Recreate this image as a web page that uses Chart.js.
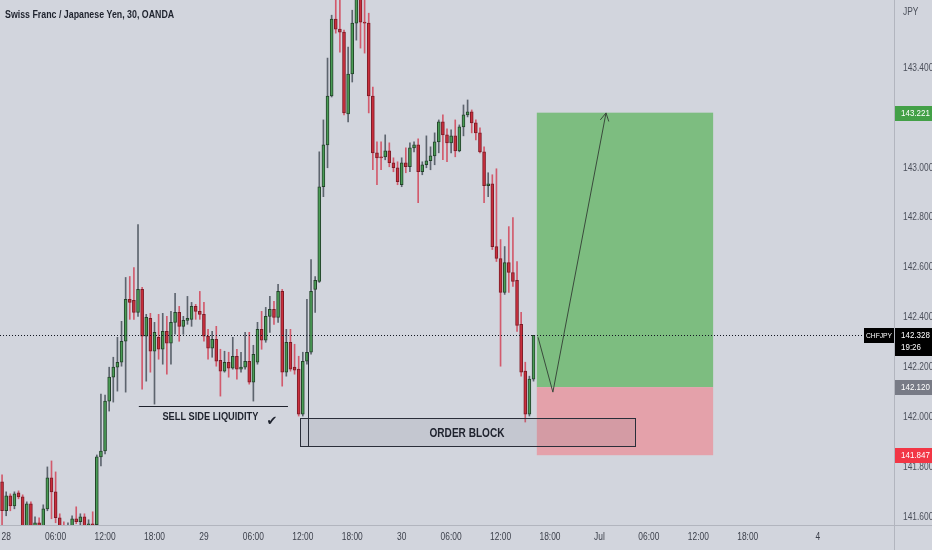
<!DOCTYPE html>
<html>
<head>
<meta charset="utf-8">
<title>CHFJPY 30</title>
<script src="https://cdn.jsdelivr.net/npm/chart.js@4.4.0/dist/chart.umd.min.js"></script>
<style>
    html, body { margin: 0; padding: 0; background: #d2d5dd; }
    #wrap { position: relative; width: 932px; height: 550px; }
</style>
</head>
<body>
<div id="wrap"><canvas id="chart" width="932" height="550"></canvas></div>
<script>
// CHFJPY 30 minute candles (slot 0 = 27 Jun 23:30)
const opens = [
    141.740, 141.624, 141.684, 141.644, 141.696, 141.680, 141.560, 141.652, 141.564, 141.576,
    141.560, 141.632, 141.756, 141.700, 141.596, 141.560, 141.548, 141.556, 141.592, 141.580,
    141.600, 141.564, 141.572, 141.568, 141.840, 141.864, 142.064, 142.160, 142.200, 142.220,
    142.304, 142.472, 142.468, 142.420, 142.512, 142.324, 142.396, 142.264, 142.320, 142.272,
    142.344, 142.296, 142.380, 142.420, 142.364, 142.388, 142.392, 142.444, 142.424, 142.412,
    142.324, 142.276, 142.312, 142.228, 142.184, 142.220, 142.196, 142.244, 142.192, 142.200,
    142.224, 142.140, 142.220, 142.352, 142.308, 142.404, 142.432, 142.400, 142.504, 142.180,
    142.300, 142.200, 142.192, 142.012, 142.224, 142.260, 142.512, 142.544, 142.924, 143.092,
    143.288, 143.596, 143.556, 143.544, 143.216, 143.376, 143.580, 143.684, 143.584, 143.580,
    143.288, 143.060, 143.044, 143.044, 143.068, 143.020, 143.000, 142.932, 143.020, 143.004,
    143.080, 143.092, 142.984, 143.012, 143.028, 143.048, 143.104, 143.184, 143.132, 143.100,
    143.128, 143.068, 143.164, 143.212, 143.224, 143.180, 143.140, 143.064, 142.928, 142.936,
    142.684, 142.636, 142.500, 142.620, 142.580, 142.548, 142.372, 142.184, 142.012, 142.152
];
const highs = [
    141.768, 141.700, 141.692, 141.700, 141.704, 141.688, 141.660, 141.660, 141.600, 141.596,
    141.648, 141.800, 141.824, 141.780, 141.612, 141.580, 141.576, 141.604, 141.640, 141.612,
    141.612, 141.588, 141.620, 141.848, 142.092, 142.088, 142.200, 142.240, 142.320, 142.384,
    142.560, 142.564, 142.600, 142.772, 142.520, 142.412, 142.416, 142.380, 142.412, 142.416,
    142.404, 142.424, 142.496, 142.444, 142.404, 142.484, 142.460, 142.452, 142.504, 142.460,
    142.352, 142.344, 142.364, 142.272, 142.264, 142.260, 142.320, 142.272, 142.260, 142.340,
    142.340, 142.288, 142.380, 142.424, 142.440, 142.484, 142.464, 142.532, 142.512, 142.352,
    142.352, 142.292, 142.244, 142.260, 142.472, 142.632, 142.564, 143.064, 143.192, 143.440,
    143.612, 143.692, 143.692, 143.552, 143.484, 143.632, 143.712, 143.712, 143.684, 143.620,
    143.324, 143.104, 143.104, 143.132, 143.100, 143.040, 143.024, 143.040, 143.080, 143.100,
    143.104, 143.116, 143.024, 143.128, 143.084, 143.140, 143.192, 143.212, 143.156, 143.152,
    143.192, 143.172, 143.252, 143.272, 143.232, 143.192, 143.160, 143.084, 142.980, 142.972,
    142.996, 142.712, 142.684, 142.764, 142.800, 142.624, 142.420, 142.220, 142.164, 142.328
];
const lows = [
    141.552, 141.604, 141.624, 141.632, 141.672, 141.552, 141.552, 141.552, 141.544, 141.544,
    141.552, 141.624, 141.592, 141.576, 141.544, 141.532, 141.528, 141.550, 141.572, 141.568,
    141.552, 141.548, 141.552, 141.552, 141.804, 141.852, 142.024, 142.060, 142.104, 142.204,
    142.100, 142.392, 142.392, 142.404, 142.112, 142.144, 142.180, 142.052, 142.232, 142.212,
    142.172, 142.212, 142.332, 142.304, 142.332, 142.372, 142.364, 142.392, 142.392, 142.304,
    142.232, 142.240, 142.204, 142.084, 142.180, 142.160, 142.192, 142.152, 142.180, 142.192,
    142.132, 142.064, 142.212, 142.272, 142.300, 142.340, 142.372, 142.380, 142.124, 142.164,
    142.184, 142.172, 142.004, 142.004, 142.212, 142.252, 142.420, 142.540, 142.884, 143.000,
    143.284, 143.540, 143.464, 143.212, 143.184, 143.344, 143.512, 143.480, 143.460, 143.220,
    142.992, 142.932, 142.992, 143.032, 143.004, 142.984, 142.932, 142.924, 142.980, 142.984,
    143.064, 142.860, 142.972, 143.000, 142.992, 143.012, 143.060, 143.032, 143.024, 143.060,
    143.044, 143.064, 143.128, 143.204, 143.140, 143.112, 143.060, 142.860, 142.884, 142.672,
    142.624, 142.204, 142.492, 142.500, 142.524, 142.344, 142.164, 141.980, 142.004, 142.144
];
const closes = [
    141.624, 141.684, 141.644, 141.692, 141.680, 141.560, 141.652, 141.564, 141.576, 141.560,
    141.632, 141.756, 141.700, 141.596, 141.560, 141.548, 141.556, 141.592, 141.580, 141.600,
    141.564, 141.572, 141.568, 141.840, 141.864, 142.064, 142.160, 142.200, 142.220, 142.304,
    142.472, 142.460, 142.420, 142.512, 142.324, 142.400, 142.264, 142.340, 142.272, 142.344,
    142.296, 142.380, 142.420, 142.364, 142.388, 142.396, 142.444, 142.424, 142.412, 142.324,
    142.276, 142.312, 142.224, 142.184, 142.220, 142.196, 142.244, 142.192, 142.200, 142.224,
    142.140, 142.252, 142.352, 142.308, 142.404, 142.432, 142.400, 142.504, 142.180, 142.300,
    142.192, 142.188, 142.012, 142.224, 142.260, 142.504, 142.548, 142.924, 143.092, 143.288,
    143.596, 143.556, 143.544, 143.220, 143.376, 143.580, 143.692, 143.584, 143.580, 143.288,
    143.060, 143.040, 143.040, 143.068, 143.020, 143.000, 142.944, 143.020, 143.004, 143.080,
    143.092, 142.984, 143.012, 143.028, 143.048, 143.104, 143.184, 143.132, 143.100, 143.128,
    143.068, 143.164, 143.212, 143.224, 143.180, 143.140, 143.064, 142.928, 142.936, 142.684,
    142.636, 142.500, 142.620, 142.580, 142.544, 142.368, 142.180, 142.012, 142.152, 142.328
];

// time axis (30 min slots, incl. empty space on the right)
const totalSlots = 217;
const tickSlots = [1, 13, 25, 37, 49, 61, 73, 85, 97, 109, 121, 133, 145, 157, 169, 181, 198];
const tickText = ['28', '06:00', '12:00', '18:00', '29', '06:00', '12:00', '18:00', '30', '06:00', '12:00', '18:00', 'Jul', '06:00', '12:00', '18:00', '4'];
const priceTicks = [141.6, 141.8, 142.0, 142.2, 142.4, 142.6, 142.8, 143.0, 143.2, 143.4];

// trade levels
const lastPrice = 142.328;
const takeProfit = 143.221;
const entryPrice = 142.120;
const stopLoss = 141.847;

// drawings (slot, price)
const zoneSlots = [129.8, 172.6];
const obSlots = [72.3, 153.6];
const obPrices = [141.996, 141.884];
const obMarkSlot = 74.3;
const obMarkTop = 142.26;
const sslSlots = [33.2, 69.4];
const sslPrice = 142.044;
const arrowSlots = [130.1, 133.7, 146.6];
const arrowPrices = [142.32, 142.10, 143.22];

const FONT = "'Liberation Sans', Arial, sans-serif";
const SQUEEZE = 0.84;   // the screenshot uses a condensed face
const UP = '#4a9c55', UP_EDGE = '#23432a', UP_WICK = '#5d646e';
const DOWN = '#c92f3d', DOWN_EDGE = '#7d1b26', DOWN_WICK = '#d25a6c';

const slots = Array.from({ length: totalSlots }, (_, i) => String(i));
const isUp = opens.map((o, i) => closes[i] >= o);

// narrow text: draw with a horizontal squeeze
function narrowText(ctx, text, x, y, align, font, color) {
    ctx.save();
    ctx.font = font;
    ctx.fillStyle = color;
    ctx.textAlign = align;
    ctx.textBaseline = 'middle';
    ctx.translate(x, y);
    ctx.scale(SQUEEZE, 1);
    ctx.fillText(text, 0, 0);
    ctx.restore();
}

function priceBox(ctx, yScale, x, w, price, h, fill, lines) {
    const y = Math.round(yScale.getPixelForValue(price));
    ctx.fillStyle = fill;
    ctx.fillRect(x, y - 7, w, h);
    lines.forEach((t, k) => narrowText(ctx, t, x + 6, y + 0.5 + k * 12, 'left', '9.5px ' + FONT, '#ffffff'));
}

const drawings = {
    id: 'drawings',
    beforeDatasetsDraw(chart) {
        const { ctx, scales: { x, y } } = chart;
        const x1 = x.getPixelForValue(zoneSlots[0]);
        const x2 = x.getPixelForValue(zoneSlots[1]);
        // long position: target zone and stop zone
        ctx.save();
        ctx.fillStyle = '#7dbd80';
        ctx.fillRect(x1, y.getPixelForValue(takeProfit), x2 - x1, y.getPixelForValue(entryPrice) - y.getPixelForValue(takeProfit));
        ctx.fillStyle = '#e4a1aa';
        ctx.fillRect(x1, y.getPixelForValue(entryPrice), x2 - x1, y.getPixelForValue(stopLoss) - y.getPixelForValue(entryPrice));
        ctx.restore();
    },
    afterDatasetsDraw(chart) {
        const { ctx, chartArea, scales: { x, y } } = chart;
        ctx.save();

        // order block
        const bx1 = Math.round(x.getPixelForValue(obSlots[0])) + 0.5;
        const bx2 = Math.round(x.getPixelForValue(obSlots[1])) + 0.5;
        const by1 = Math.round(y.getPixelForValue(obPrices[0])) + 0.5;
        const by2 = Math.round(y.getPixelForValue(obPrices[1])) + 0.5;
        ctx.fillStyle = 'rgba(120, 123, 134, 0.15)';
        ctx.fillRect(bx1, by1, bx2 - bx1, by2 - by1);
        ctx.strokeStyle = '#2a2e39';
        ctx.lineWidth = 1;
        ctx.strokeRect(bx1, by1, bx2 - bx1, by2 - by1);
        const mx = Math.round(x.getPixelForValue(obMarkSlot)) + 0.5;
        ctx.beginPath();
        ctx.moveTo(mx, y.getPixelForValue(obMarkTop));
        ctx.lineTo(mx, by2);
        ctx.stroke();
        narrowText(ctx, 'ORDER BLOCK', (bx1 + bx2) / 2 - 1, (by1 + by2) / 2 + 1, 'center', 'bold 12px ' + FONT, '#1e222d');

        // sell side liquidity
        const sy = Math.round(y.getPixelForValue(sslPrice)) + 0.5;
        const sx1 = x.getPixelForValue(sslSlots[0]);
        const sx2 = x.getPixelForValue(sslSlots[1]);
        ctx.strokeStyle = '#1e222d';
        ctx.beginPath();
        ctx.moveTo(sx1, sy);
        ctx.lineTo(sx2, sy);
        ctx.stroke();
        narrowText(ctx, 'SELL SIDE LIQUIDITY', (sx1 + sx2) / 2 - 3, sy + 10, 'center', 'bold 11px ' + FONT, '#1e222d');
        ctx.fillStyle = '#1e222d';
        ctx.font = 'bold 13px DejaVu Sans';
        ctx.textAlign = 'center';
        ctx.textBaseline = 'middle';
        ctx.fillText('\u2714', sx2 - 16, sy + 15);

        // projected move
        const pts = arrowSlots.map((s, k) => [x.getPixelForValue(s), y.getPixelForValue(arrowPrices[k])]);
        ctx.strokeStyle = '#3a4a3c';
        ctx.lineWidth = 1;
        ctx.beginPath();
        pts.forEach((p, k) => k ? ctx.lineTo(p[0], p[1]) : ctx.moveTo(p[0], p[1]));
        ctx.stroke();
        const [ex, ey] = pts[2];
        const ang = Math.atan2(ey - pts[1][1], ex - pts[1][0]);
        ctx.beginPath();
        ctx.moveTo(ex - 9 * Math.cos(ang - 0.5), ey - 9 * Math.sin(ang - 0.5));
        ctx.lineTo(ex, ey);
        ctx.lineTo(ex - 9 * Math.cos(ang + 0.5), ey - 9 * Math.sin(ang + 0.5));
        ctx.stroke();

        // last price line
        const ly = Math.round(y.getPixelForValue(lastPrice)) + 0.5;
        ctx.strokeStyle = '#131722';
        ctx.setLineDash([1, 2]);
        ctx.beginPath();
        ctx.moveTo(chartArea.left, ly);
        ctx.lineTo(chartArea.right, ly);
        ctx.stroke();
        ctx.setLineDash([]);
        ctx.restore();
    },
    afterDraw(chart) {
        const { ctx, chartArea, scales: { x, y } } = chart;
        const ax = chartArea.right + 1;
        const aw = chart.width - ax;
        ctx.save();
        // separators
        ctx.strokeStyle = '#b2b5be';
        ctx.beginPath();
        ctx.moveTo(0, chartArea.bottom + 0.5);
        ctx.lineTo(chart.width, chartArea.bottom + 0.5);
        ctx.moveTo(chartArea.right + 0.5, 0);
        ctx.lineTo(chartArea.right + 0.5, chart.height);
        ctx.stroke();

        // axis labels
        const labelFont = '10px ' + FONT;
        priceTicks.forEach(v => narrowText(ctx, v.toFixed(3), ax + 8, y.getPixelForValue(v), 'left', labelFont, '#4c505b'));
        tickSlots.forEach((s, k) => narrowText(ctx, tickText[k], x.getPixelForValue(s), chartArea.bottom + 12, 'center', labelFont, '#3b3f4a'));
        narrowText(ctx, 'JPY', ax + 8, 12, 'left', labelFont, '#4c505b');
        narrowText(ctx, 'Swiss Franc / Japanese Yen, 30, OANDA', 5, 15, 'left', '600 10.5px ' + FONT, '#1e222d');

        priceBox(ctx, y, ax, aw, takeProfit, 15, '#43a047', ['143.221']);
        priceBox(ctx, y, ax, aw, entryPrice, 15, '#787b86', ['142.120']);
        priceBox(ctx, y, ax, aw, stopLoss, 15, '#f23645', ['141.847']);
        priceBox(ctx, y, ax, aw, lastPrice, 28, '#000000', ['142.328', '19:26']);

        // symbol tag
        const ly = Math.round(y.getPixelForValue(lastPrice));
        ctx.fillStyle = '#000000';
        ctx.fillRect(ax - 31, ly - 7, 30, 15);
        narrowText(ctx, 'CHFJPY', ax - 16, ly + 0.5, 'center', '8px ' + FONT, '#ffffff');
        ctx.restore();
    }
};

new Chart(document.getElementById('chart'), {
    type: 'bar',
    data: {
        labels: slots,
        datasets: [
            {
                label: 'body',
                data: opens.map((o, i) => [o, closes[i]]),
                backgroundColor: isUp.map(u => u ? UP : DOWN),
                borderColor: isUp.map(u => u ? UP_EDGE : DOWN_EDGE),
                borderWidth: 1,
                borderSkipped: false,
                barThickness: 3,
                minBarLength: 1,
                grouped: false
            },
            {
                label: 'wick',
                data: lows.map((l, i) => [l, highs[i]]),
                backgroundColor: isUp.map(u => u ? UP_WICK : DOWN_WICK),
                borderWidth: 0,
                barThickness: 1,
                grouped: false
            }
        ]
    },
    options: {
        responsive: false,
        animation: false,
        devicePixelRatio: 1,
        layout: { padding: 0 },
        plugins: { legend: { display: false }, tooltip: { enabled: false } },
        scales: {
            x: {
                grid: { display: false, drawTicks: false },
                border: { display: false },
                ticks: { display: false },
                afterFit: s => { s.height = 25; s.paddingLeft = 0; s.paddingRight = 0; }
            },
            y: {
                position: 'right',
                min: 141.567,
                max: 143.673,
                grid: { display: false, drawTicks: false },
                border: { display: false },
                ticks: { display: false },
                afterFit: s => { s.width = 38; s.paddingTop = 0; s.paddingBottom = 0; }
            }
        }
    },
    plugins: [drawings]
});
</script>
</body>
</html>
